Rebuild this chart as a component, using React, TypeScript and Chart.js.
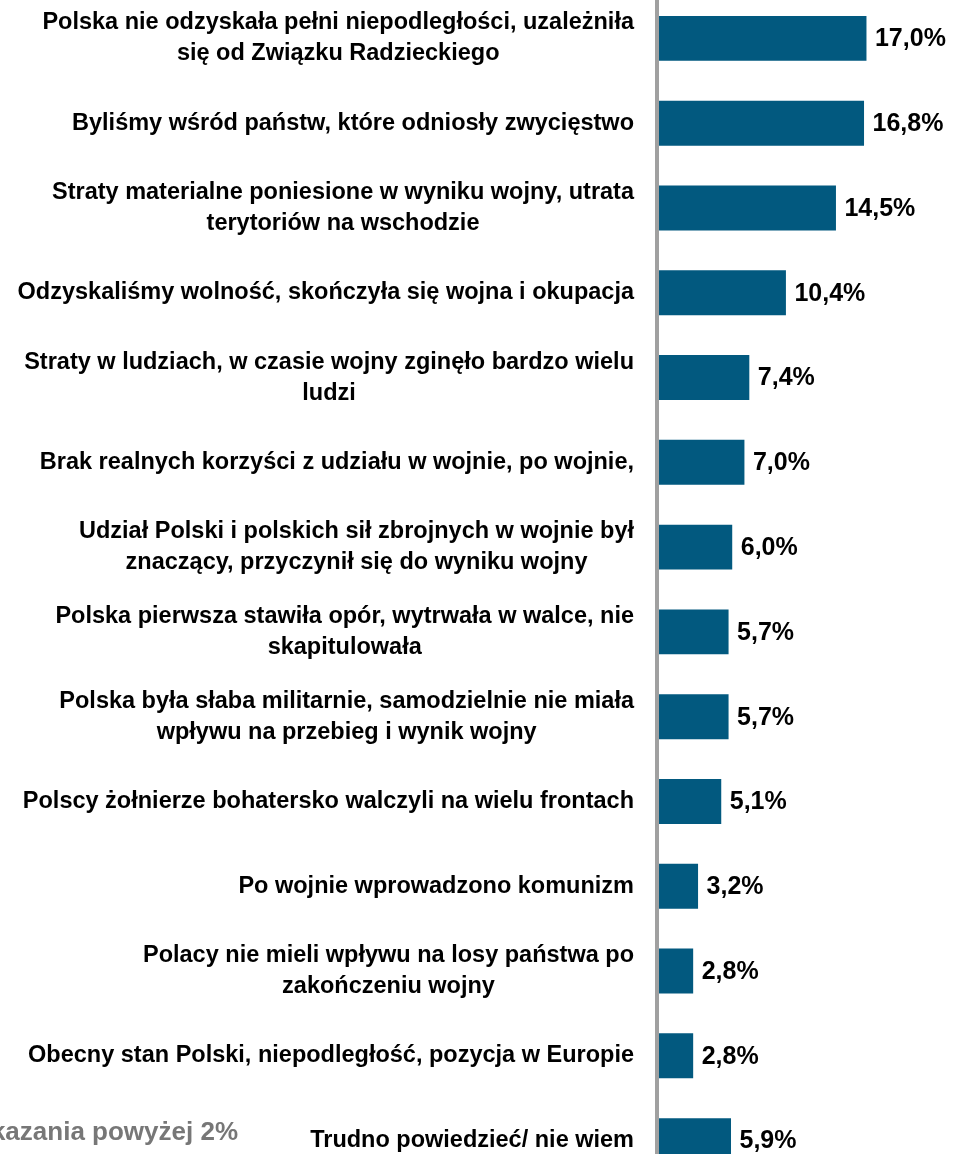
import React, { useEffect, useRef } from "react";
import { Chart, registerables } from "chart.js";

Chart.register(...registerables);

const categories: (string | string[])[] = [
  ["Polska nie odzyskała pełni niepodległości, uzależniła", "się od Związku Radzieckiego"],
  "Byliśmy wśród państw, które odniosły zwycięstwo",
  ["Straty materialne poniesione w wyniku wojny, utrata", "terytoriów na wschodzie"],
  "Odzyskaliśmy wolność, skończyła się wojna i okupacja",
  ["Straty w ludziach, w czasie wojny zginęło bardzo wielu", "ludzi"],
  "Brak realnych korzyści z udziału w wojnie, po wojnie,",
  ["Udział Polski i polskich sił zbrojnych w wojnie był", "znaczący, przyczynił się do wyniku wojny"],
  ["Polska pierwsza stawiła opór, wytrwała w walce, nie", "skapitulowała"],
  ["Polska była słaba militarnie, samodzielnie nie miała", "wpływu na przebieg i wynik wojny"],
  "Polscy żołnierze bohatersko walczyli na wielu frontach",
  "Po wojnie wprowadzono komunizm",
  ["Polacy nie mieli wpływu na losy państwa po", "zakończeniu wojny"],
  "Obecny stan Polski, niepodległość, pozycja w Europie",
  "Trudno powiedzieć/ nie wiem",
];

const values: number[] = [17.0, 16.8, 14.5, 10.4, 7.4, 7.0, 6.0, 5.7, 5.7, 5.1, 3.2, 2.8, 2.8, 5.9];

const footnote = "Wskazania powyżej 2%";

const FONT = '"Liberation Sans", Arial, sans-serif';
const BAR_COLOR = "#02597f";

const fmt = (v: number) => v.toFixed(1).replace(".", ",") + "%";

const customPlugin = {
  id: "customDraw",
  beforeDatasetsDraw(chart: any) {
    const ctx = chart.ctx;
    const xs = chart.scales.x;
    const x0 = xs.getPixelForValue(0);
    ctx.save();
    ctx.fillStyle = "#a0a0a0";
    ctx.fillRect(x0 - 4, 0, 4, chart.height);
    ctx.restore();
  },
  afterDatasetsDraw(chart: any) {
    const ctx = chart.ctx;
    const meta = chart.getDatasetMeta(0);
    const ys = chart.scales.y;
    const xs = chart.scales.x;
    const x0 = xs.getPixelForValue(0);
    ctx.save();
    // value labels
    ctx.font = `bold 25px ${FONT}`;
    ctx.fillStyle = "#000";
    ctx.textAlign = "left";
    ctx.textBaseline = "middle";
    meta.data.forEach((bar: any, i: number) => {
      ctx.fillText(fmt(values[i]), bar.x + 8.5, bar.y + 1);
    });
    // category labels: block right-aligned, lines centered in block
    ctx.font = `bold 23.5px ${FONT}`;
    ctx.textAlign = "center";
    const right = x0 - 25;
    const lh = 31;
    categories.forEach((c, i) => {
      const lines = Array.isArray(c) ? c : [c];
      const w = Math.max(...lines.map((l) => ctx.measureText(l).width));
      const cx = right - w / 2;
      const yc = ys.getPixelForValue(i);
      lines.forEach((l, k) => {
        const y = yc + (k - (lines.length - 1) / 2) * lh;
        ctx.fillText(l, cx, y);
      });
    });
    // footnote
    const yl = ys.getPixelForValue(categories.length - 1);
    ctx.font = `bold 26px ${FONT}`;
    ctx.fillStyle = "#777777";
    ctx.textAlign = "right";
    ctx.textBaseline = "alphabetic";
    ctx.fillText(footnote, 238, yl - 1);
    ctx.restore();
  },
};

export default function App() {
  const ref = useRef<HTMLCanvasElement | null>(null);
  useEffect(() => {
    if (!ref.current) return;
    const chart = new Chart(ref.current, {
      type: "bar",
      data: {
        labels: categories.map((c) => (Array.isArray(c) ? c.join(" ") : c)),
        datasets: [
          {
            data: values,
            backgroundColor: BAR_COLOR,
            borderWidth: 0,
            categoryPercentage: 1,
            barPercentage: 0.53,
          },
        ],
      },
      options: {
        indexAxis: "y",
        animation: false,
        responsive: false,
        devicePixelRatio: 1,
        layout: { padding: { left: 659, right: 0, top: 0, bottom: 0 } },
        plugins: { legend: { display: false }, tooltip: { enabled: false } },
        scales: {
          x: { display: false, min: 0, max: 24.5 },
          y: { display: false },
        },
      },
      plugins: [customPlugin],
    });
    return () => chart.destroy();
  }, []);
  return (
    <div style={{ position: "fixed", left: 0, top: 0, width: 958, height: 1154, overflow: "hidden", background: "#fff" }}>
      <div style={{ position: "absolute", left: 0, top: -4, width: 958, height: 1187 }}>
        <canvas ref={ref} width={958} height={1187} style={{ display: "block" }} />
      </div>
    </div>
  );
}
